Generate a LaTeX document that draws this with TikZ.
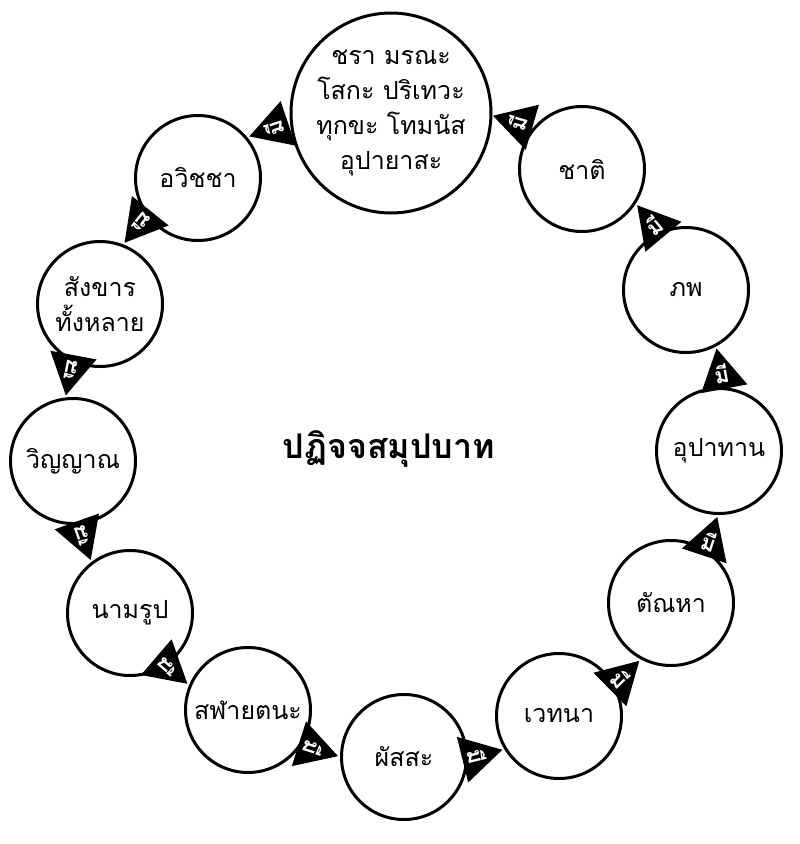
\documentclass[tikz,border=0pt]{standalone}
\usepackage{fontspec}
\newfontfamily\thaifont[Script=Thai]{Loma}
\usetikzlibrary{calc,decorations.markings}
\begin{document}
\begin{tikzpicture}[x=1pt,y=-1pt,
  stage/.style={circle, draw, line width=3pt, minimum size=125pt, inner sep=0pt,
    align=center, font=\thaifont\fontsize{25}{35}\selectfont},
  bigstage/.style={stage, minimum size=200pt},
  title/.style={font=\thaifont\bfseries\fontsize{34}{40}\selectfont},
  conn/.style={decorate, decoration={markings, mark=at position 1 with {
      \fill[black] (0pt,0pt) -- (-41pt,23.5pt) -- (-41pt,-23.5pt) -- cycle;
      \node[transform shape, rotate=-90, text=white, inner sep=0pt,
        font=\thaifont\bfseries\fontsize{22}{22}\selectfont] at (-26pt,0pt) {มี};}}}
]
\useasboundingbox[fill=white] (0,0) rectangle (800,844);

\node[bigstage] (jara) at (391,113) {ชรา มรณะ\\โสกะ ปริเทวะ\\ทุกขะ โทมนัส\\อุปายาสะ};
\node[stage] (jati) at (582,169) {ชาติ};
\node[stage] (bhava) at (686,290) {ภพ};
\node[stage] (upadana) at (719,451) {อุปาทาน};
\node[stage] (tanha) at (671,603) {ตัณหา};
\node[stage] (vedana) at (559,716) {เวทนา};
\node[stage] (phassa) at (404,757) {ผัสสะ};
\node[stage] (salayatana) at (248,710) {สฬายตนะ};
\node[stage] (namarupa) at (130,613) {นามรูป};
\node[stage] (vinnana) at (73,461) {วิญญาณ};
\node[stage] (sankhara) at (100,304) {สังขาร\\ทั้งหลาย};
\node[stage] (avijja) at (198,178) {อวิชชา};

\node[title, anchor=base] (center) at (389,458) {ปฏิจจสมุปบาท};

\path[conn] ($(jara)!100pt!-13.3:(avijja)$) -- ($(avijja)!66pt!20.4:(jara)$);
\path[conn] ($(avijja)!64pt!-16:(sankhara)$) -- ($(sankhara)!66pt!16:(avijja)$);
\path[conn] ($(sankhara)!64pt!-16:(vinnana)$) -- ($(vinnana)!66pt!16:(sankhara)$);
\path[conn] ($(vinnana)!64pt!-16:(namarupa)$) -- ($(namarupa)!66pt!16:(vinnana)$);
\path[conn] ($(namarupa)!64pt!-16:(salayatana)$) -- ($(salayatana)!66pt!16:(namarupa)$);
\path[conn] ($(salayatana)!64pt!-16:(phassa)$) -- ($(phassa)!66pt!16:(salayatana)$);
\path[conn] ($(phassa)!64pt!-16:(vedana)$) -- ($(vedana)!66pt!16:(phassa)$);
\path[conn] ($(vedana)!64pt!-16:(tanha)$) -- ($(tanha)!66pt!16:(vedana)$);
\path[conn] ($(tanha)!64pt!-16:(upadana)$) -- ($(upadana)!66pt!16:(tanha)$);
\path[conn] ($(upadana)!64pt!-16:(bhava)$) -- ($(bhava)!66pt!16:(upadana)$);
\path[conn] ($(bhava)!64pt!-16:(jati)$) -- ($(jati)!66pt!16:(bhava)$);
\path[conn] ($(jati)!64pt!-24:(jara)$) -- ($(jara)!102pt!14.8:(jati)$);
\end{tikzpicture}
\end{document}
